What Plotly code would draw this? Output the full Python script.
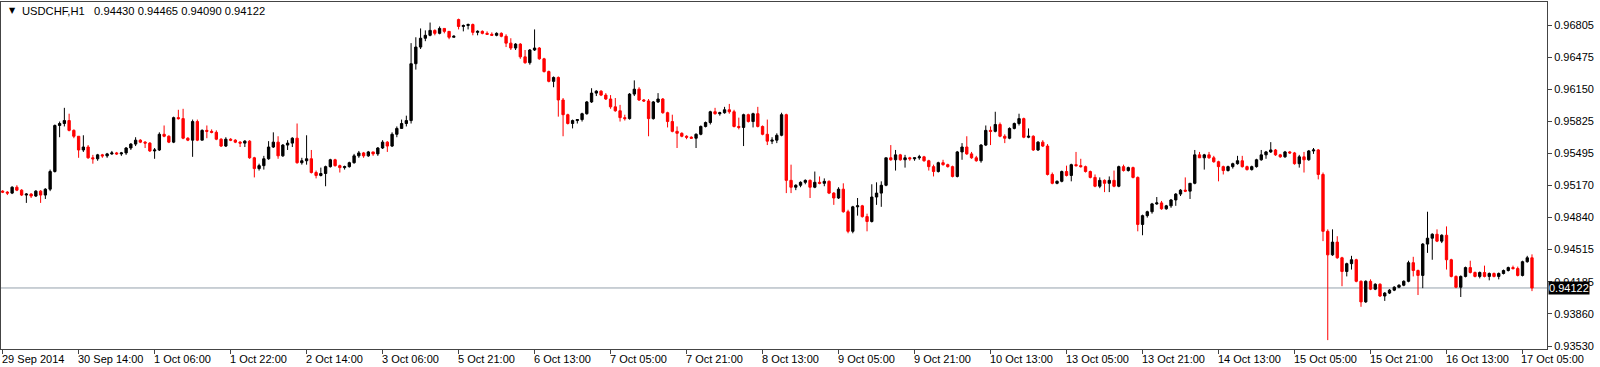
import plotly.graph_objects as go

HEADER_SYMBOL = "USDCHF,H1"
HEADER_VALUES = "0.94430 0.94465 0.94090 0.94122"
LAST_PRICE = 0.94122

TICK_BARS = [0, 16, 32, 48, 64, 80, 96, 112, 128, 144, 160, 176, 192, 208, 224, 240, 256, 272, 288, 304, 320]
TICK_LABELS = ["29 Sep 2014", "30 Sep 14:00", "1 Oct 06:00", "1 Oct 22:00", "2 Oct 14:00",
               "3 Oct 06:00", "5 Oct 21:00", "6 Oct 13:00", "7 Oct 05:00", "7 Oct 21:00",
               "8 Oct 13:00", "9 Oct 05:00", "9 Oct 21:00", "10 Oct 13:00", "13 Oct 05:00",
               "13 Oct 21:00", "14 Oct 13:00", "15 Oct 05:00", "15 Oct 21:00", "16 Oct 13:00",
               "17 Oct 05:00"]
PRICE_TICKS = [0.96805, 0.96475, 0.96150, 0.95825, 0.95495, 0.95170, 0.94840,
               0.94515, 0.94185, 0.93860, 0.93530]

# prices in pips (x 0.0001)
OPEN = [
 9511,9510,9509,9515,9512,9507,9508,9506,9511,9507,
 9513,9531,9578,9580,9583,9573,9567,9553,9556,9545,
 9544,9548,9547,9549,9550,9549,9550,9555,9559,9563,
 9561,9560,9552,9553,9569,9567,9561,9586,9585,9565,
 9563,9582,9563,9573,9572,9571,9564,9557,9564,9563,
 9561,9560,9562,9545,9534,9537,9544,9556,9561,9547,
 9558,9560,9565,9540,9542,9544,9530,9527,9529,9536,
 9543,9537,9535,9536,9540,9547,9550,9547,9551,9549,
 9555,9561,9557,9569,9575,9580,9583,9641,9658,9667,
 9670,9675,9672,9677,9674,9668,9686,9679,9680,9681,
 9673,9674,9672,9671,9670,9672,9669,9662,9657,9661,
 9648,9642,9655,9657,9646,9633,9623,9627,9604,9589,
 9580,9583,9584,9590,9602,9611,9613,9609,9605,9597,
 9593,9586,9585,9610,9615,9604,9603,9585,9602,9605,
 9591,9582,9572,9570,9567,9566,9565,9569,9577,9581,
 9592,9590,9591,9594,9592,9577,9576,9589,9582,9590,
 9577,9569,9562,9563,9568,9589,9522,9515,9517,9520,
 9522,9515,9520,9519,9521,9509,9504,9513,9490,9470,
 9495,9496,9485,9480,9505,9509,9517,9545,9543,9548,
 9543,9545,9544,9545,9546,9542,9536,9531,9540,9538,
 9536,9526,9551,9556,9549,9545,9542,9558,9573,9572,
 9579,9567,9565,9575,9580,9585,9566,9567,9553,9561,
 9557,9528,9519,9521,9531,9527,9538,9537,9536,9531,
 9525,9516,9522,9519,9522,9516,9536,9532,9535,9525,
 9477,9486,9490,9498,9499,9493,9496,9502,9508,9512,
 9511,9519,9548,9545,9548,9545,9541,9536,9532,9536,
 9539,9542,9536,9533,9536,9543,9548,9551,9553,9548,
 9546,9551,9550,9539,9546,9543,9552,9553,9528,9470,
 9446,9459,9443,9429,9437,9441,9419,9398,9419,9411,
 9416,9404,9407,9410,9413,9415,9419,9438,9430,9425,
 9457,9463,9467,9460,9466,9441,9424,9413,9424,9433,
 9428,9424,9428,9424,9427,9424,9427,9430,9433,9432,
 9425,9439,9443.0]
HIGH = [
 9512,9511,9516,9517,9513,9509,9509,9512,9512,9514,
 9533,9579,9582,9596,9590,9574,9567,9568,9558,9548,
 9549,9549,9550,9552,9551,9551,9556,9560,9566,9564,
 9562,9561,9555,9571,9578,9568,9587,9594,9595,9566,
 9584,9584,9574,9578,9574,9573,9565,9566,9565,9564,
 9562,9563,9563,9546,9539,9547,9562,9571,9567,9559,
 9563,9566,9580,9545,9568,9553,9532,9535,9537,9544,
 9544,9538,9537,9541,9549,9552,9551,9552,9551,9556,
 9563,9562,9571,9577,9584,9588,9662,9668,9677,9675,
 9683,9676,9679,9677,9674,9670,9687,9681,9682,9682,
 9675,9675,9674,9673,9673,9673,9671,9667,9662,9662,
 9655,9656,9676,9658,9647,9634,9628,9628,9606,9590,
 9584,9584,9591,9603,9616,9614,9614,9611,9609,9606,
 9599,9589,9611,9624,9617,9605,9605,9603,9611,9606,
 9592,9589,9577,9571,9568,9567,9570,9578,9582,9593,
 9596,9592,9597,9600,9594,9586,9590,9590,9591,9597,
 9578,9584,9566,9570,9591,9590,9538,9518,9521,9523,
 9523,9531,9526,9524,9522,9510,9515,9519,9492,9496,
 9504,9497,9488,9518,9520,9521,9545,9558,9553,9549,
 9548,9546,9545,9548,9547,9543,9538,9541,9543,9539,
 9537,9552,9560,9567,9551,9547,9559,9578,9577,9592,
 9581,9569,9576,9581,9590,9586,9575,9568,9562,9563,
 9559,9530,9522,9532,9537,9539,9551,9544,9537,9532,
 9528,9525,9523,9526,9532,9537,9538,9536,9536,9526,
 9487,9491,9499,9505,9501,9497,9503,9509,9513,9525,
 9519,9553,9551,9549,9551,9547,9542,9537,9537,9540,
 9547,9547,9537,9537,9544,9553,9552,9561,9554,9549,
 9552,9552,9551,9548,9551,9553,9555,9554,9530,9472,
 9472,9465,9444,9438,9445,9442,9420,9420,9421,9417,
 9417,9408,9411,9414,9416,9420,9440,9444,9431,9458,
 9490,9468,9472,9467,9475,9442,9425,9425,9434,9440,
 9429,9429,9435,9428,9428,9428,9431,9434,9435,9434,
 9440,9445,9446.5]
LOW = [
 9509,9507,9508,9511,9506,9499,9504,9505,9499,9503,
 9511,9530,9566,9577,9572,9565,9545,9551,9544,9539,
 9542,9545,9545,9548,9548,9547,9548,9553,9557,9560,
 9555,9551,9544,9552,9566,9560,9560,9584,9564,9562,
 9546,9562,9563,9565,9570,9563,9556,9556,9562,9560,
 9556,9556,9544,9525,9532,9533,9543,9555,9544,9546,
 9553,9556,9539,9538,9538,9529,9524,9526,9516,9535,
 9536,9530,9533,9535,9539,9545,9545,9546,9547,9547,
 9554,9551,9556,9566,9575,9577,9580,9635,9656,9664,
 9669,9670,9671,9672,9666,9668,9676,9674,9676,9670,
 9670,9671,9671,9670,9669,9668,9658,9655,9655,9646,
 9641,9640,9654,9645,9632,9622,9617,9587,9567,9579,
 9575,9580,9582,9589,9601,9608,9608,9604,9595,9592,
 9582,9583,9584,9608,9603,9602,9567,9584,9601,9590,
 9576,9571,9555,9566,9564,9565,9555,9568,9576,9579,
 9589,9588,9590,9590,9576,9574,9557,9581,9576,9576,
 9568,9558,9559,9560,9567,9509,9509,9512,9515,9518,
 9504,9514,9518,9516,9508,9497,9503,9489,9468,9468,
 9486,9484,9470,9479,9497,9495,9516,9542,9532,9542,
 9535,9542,9542,9543,9541,9532,9526,9530,9537,9535,
 9525,9525,9543,9548,9544,9541,9540,9557,9558,9571,
 9566,9560,9564,9574,9578,9565,9565,9552,9552,9556,
 9527,9518,9518,9520,9526,9521,9536,9535,9530,9524,
 9515,9514,9510,9510,9515,9515,9531,9531,9524,9470,
 9466,9484,9488,9497,9492,9492,9494,9496,9506,9510,
 9503,9518,9545,9533,9544,9540,9521,9528,9531,9534,
 9538,9535,9532,9532,9535,9542,9544,9550,9547,9545,
 9545,9549,9538,9535,9530,9542,9549,9523,9460,9359,
 9445,9442,9414,9424,9431,9418,9393,9397,9410,9410,
 9403,9399,9406,9409,9412,9414,9418,9424,9405,9412,
 9448,9441,9459,9458,9431,9423,9412,9403,9423,9427,
 9423,9422,9423,9420,9423,9421,9426,9429,9431,9424,
 9424,9438,9409.0]
CLOSE = [
 9510,9509,9515,9512,9507,9508,9506,9511,9507,9513,
 9531,9578,9580,9583,9573,9567,9553,9556,9545,9544,
 9548,9547,9549,9550,9549,9550,9555,9559,9563,9561,
 9560,9552,9553,9569,9567,9561,9586,9585,9565,9563,
 9582,9563,9573,9572,9571,9564,9557,9564,9563,9561,
 9560,9562,9545,9534,9537,9544,9556,9561,9547,9558,
 9560,9565,9540,9542,9544,9530,9527,9529,9536,9543,
 9537,9535,9536,9540,9547,9550,9547,9551,9549,9555,
 9561,9557,9569,9575,9580,9583,9641,9658,9667,9670,
 9675,9672,9677,9674,9668,9669,9679,9680,9681,9673,
 9674,9672,9671,9670,9672,9669,9662,9657,9661,9648,
 9642,9655,9657,9646,9633,9623,9627,9604,9589,9580,
 9583,9584,9590,9602,9611,9613,9609,9605,9597,9593,
 9586,9585,9610,9615,9604,9603,9585,9602,9605,9591,
 9582,9572,9570,9567,9566,9565,9569,9577,9581,9592,
 9590,9591,9594,9592,9577,9576,9589,9582,9590,9577,
 9569,9562,9563,9568,9589,9522,9515,9517,9520,9522,
 9515,9520,9519,9521,9509,9504,9513,9490,9470,9495,
 9496,9485,9480,9505,9509,9517,9545,9543,9548,9543,
 9545,9544,9545,9546,9542,9536,9531,9540,9538,9536,
 9526,9551,9556,9549,9545,9542,9558,9573,9572,9579,
 9567,9565,9575,9580,9585,9566,9567,9553,9561,9557,
 9528,9519,9521,9531,9527,9538,9537,9536,9531,9525,
 9516,9522,9519,9522,9516,9536,9532,9535,9525,9477,
 9486,9490,9498,9499,9493,9496,9502,9508,9512,9511,
 9519,9548,9545,9548,9545,9541,9536,9532,9536,9539,
 9542,9536,9533,9536,9543,9548,9551,9553,9548,9546,
 9551,9550,9539,9546,9543,9552,9553,9528,9470,9446,
 9459,9443,9429,9437,9441,9419,9398,9419,9411,9416,
 9404,9407,9410,9413,9415,9419,9438,9430,9425,9457,
 9463,9467,9460,9466,9441,9424,9413,9424,9433,9428,
 9424,9428,9424,9427,9424,9427,9430,9433,9432,9425,
 9439,9443,9412.2]

PIP = 0.0001
n = len(CLOSE)
bars = list(range(n))
o = [v * PIP for v in OPEN]
h = [v * PIP for v in HIGH]
l = [v * PIP for v in LOW]
c = [v * PIP for v in CLOSE]

FONT = "Liberation Sans, Arial, sans-serif"

fig = go.Figure()
fig.add_trace(go.Candlestick(
    x=bars, open=o, high=h, low=l, close=c,
    increasing=dict(line=dict(color="#000000", width=1), fillcolor="#000000"),
    decreasing=dict(line=dict(color="#FF0000", width=1), fillcolor="#FF0000"),
    whiskerwidth=0, hoverinfo="skip", showlegend=False,
))

annotations = []
for b, lab in zip(TICK_BARS, TICK_LABELS):
    annotations.append(dict(x=b, xref="x", y=0, yref="paper", yanchor="top", yshift=-2,
                            xanchor="left", xshift=-3, text=lab, showarrow=False,
                            font=dict(family=FONT, size=11, color="#000000")))
annotations.append(dict(x=0, xref="paper", y=1, yref="paper", xanchor="left", yanchor="top",
                        xshift=6, yshift=-2, text="▼", showarrow=False,
                        font=dict(family="DejaVu Sans", size=8, color="#000000")))
annotations.append(dict(x=0, xref="paper", y=1, yref="paper", xanchor="left", yanchor="top",
                        xshift=19, yshift=-1,
                        text=HEADER_SYMBOL + "&nbsp;&nbsp;&nbsp;" + HEADER_VALUES, showarrow=False,
                        font=dict(family=FONT, size=11.2, color="#000000")))
annotations.append(dict(x=1, xref="paper", y=LAST_PRICE, yref="y", xanchor="left", yanchor="middle",
                        xshift=1, text=f"{LAST_PRICE:.5f}", showarrow=False, bgcolor="#000000",
                        borderpad=0, font=dict(family=FONT, size=11, color="#FFFFFF")))

fig.update_layout(
    width=1600, height=367,
    margin=dict(l=1, r=53, t=2, b=18),
    paper_bgcolor="#FFFFFF", plot_bgcolor="#FFFFFF",
    boxgap=0.3,
    showlegend=False,
    annotations=annotations,
    shapes=[dict(type="line", xref="paper", x0=0, x1=1, yref="y", y0=LAST_PRICE, y1=LAST_PRICE,
                 line=dict(color="#96A1AC", width=1), layer="below")],
    xaxis=dict(range=[-0.34, 325.16], showline=True, mirror=True, linecolor="#444444", linewidth=1,
               ticks="outside", tickvals=TICK_BARS, ticklen=4, tickcolor="#444444",
               showticklabels=False, showgrid=False, zeroline=False,
               rangeslider=dict(visible=False), fixedrange=True),
    yaxis=dict(side="right", range=[0.934994, 0.970397], showline=True, mirror=True,
               linecolor="#444444", linewidth=1, ticks="outside", tickvals=PRICE_TICKS,
               ticktext=[f"{v:.5f}" for v in PRICE_TICKS], ticklen=4, tickcolor="#444444",
               tickfont=dict(family=FONT, size=11, color="#000000"),
               showgrid=False, zeroline=False, fixedrange=True),
)

fig.write_html("out.html", config={"displayModeBar": False, "staticPlot": True})
